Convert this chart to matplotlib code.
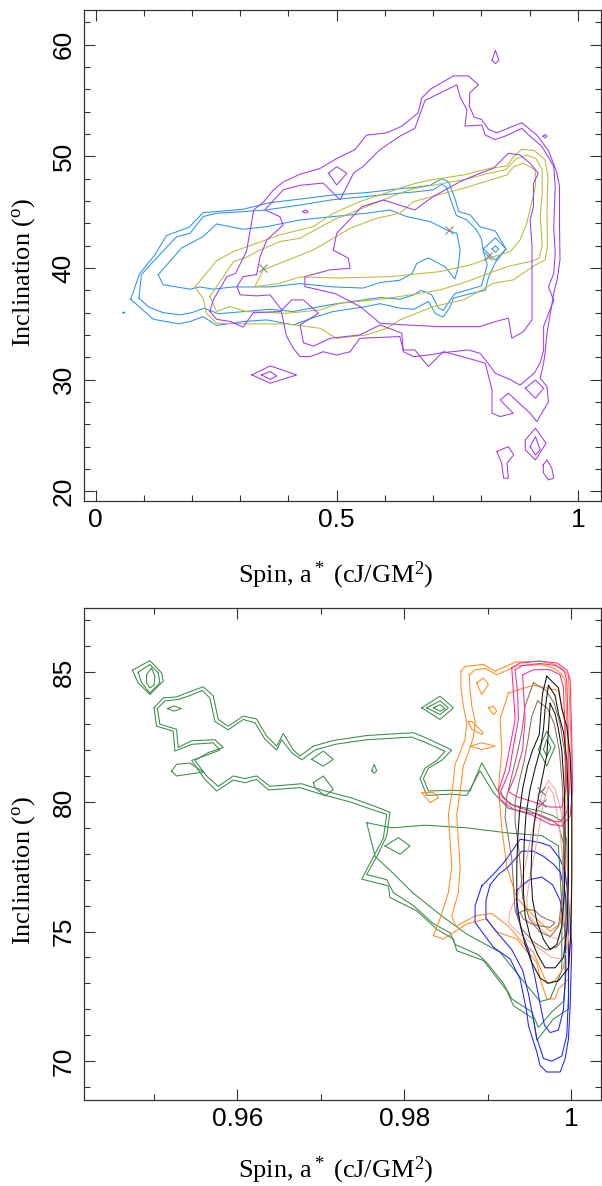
import matplotlib
matplotlib.use("Agg")
import matplotlib.pyplot as plt

plt.rcParams['mathtext.fontset'] = 'custom'
plt.rcParams['mathtext.rm'] = 'Liberation Serif'
plt.rcParams['mathtext.it'] = 'Liberation Serif:italic'

# ---------------- top panel contours (spin, inclination) ----------------
blue_outer = [(0.073,37.2),(0.099,36.2),(0.12,35.4),(0.172,35.0),(0.196,35.2),(0.223,35.65),(0.251,34.85),(0.306,35.2),(0.355,35.35),(0.41,34.9),(0.458,35.65),(0.493,36.1),(0.555,36.5),(0.59,36.8),(0.631,36.4),(0.66,36.3),(0.69,37.0),(0.705,35.9),(0.721,35.6),(0.735,36.5),(0.742,37.3),(0.777,37.7),(0.808,38.0),(0.815,39.2),(0.829,40.5),(0.851,41.7),(0.829,43.3),(0.797,43.7),(0.777,44.75),(0.753,45.05),(0.746,46.1),(0.732,47.7),(0.718,48.0),(0.694,47.4),(0.659,47.2),(0.631,47.1),(0.562,46.75),(0.493,46.54),(0.438,46.24),(0.362,45.85),(0.306,45.26),(0.251,45.05),(0.223,44.96),(0.194,43.65),(0.147,42.9),(0.123,41.17),(0.091,39.47),(0.073,37.2)]
blue_mid = [(0.09,37.3),(0.11,36.5),(0.14,36.0),(0.175,35.8),(0.2,36.0),(0.225,36.4),(0.255,35.9),(0.31,36.1),(0.36,36.3),(0.41,36.1),(0.46,36.5),(0.5,36.8),(0.55,37.1),(0.59,37.35),(0.631,37.2),(0.66,37.6),(0.675,38.0),(0.697,37.6),(0.711,36.4),(0.721,36.2),(0.733,37.0),(0.745,37.7),(0.777,38.1),(0.80,38.4),(0.806,39.3),(0.812,40.3),(0.804,41.5),(0.80,42.6),(0.79,43.4),(0.77,44.3),(0.748,44.7),(0.738,45.9),(0.728,47.2),(0.718,47.5),(0.70,47.0),(0.66,46.8),(0.631,46.7),(0.56,46.4),(0.49,46.1),(0.424,45.64),(0.355,45.2),(0.306,45.04),(0.251,44.9),(0.223,44.6),(0.196,43.1),(0.168,42.8),(0.12,40.6),(0.095,39.4),(0.09,37.3)]
blue_inner = [(0.13,39.4),(0.14,38.5),(0.196,38.1),(0.216,38.3),(0.244,38.1),(0.286,38.3),(0.362,38.3),(0.424,38.6),(0.493,38.3),(0.555,38.2),(0.59,38.7),(0.631,38.9),(0.656,39.5),(0.666,40.4),(0.69,40.9),(0.725,40.1),(0.745,39.0),(0.752,40.1),(0.756,41.6),(0.749,43.1),(0.728,43.4),(0.694,44.15),(0.645,44.6),(0.61,45.2),(0.562,44.9),(0.424,44.3),(0.355,43.7),(0.306,43.47),(0.251,43.94),(0.223,42.81),(0.178,41.77),(0.13,39.4)]
blue_ring = [(0.804,41.7),(0.829,42.7),(0.851,41.7),(0.829,40.7),(0.804,41.7)]
blue_ring2 = [(0.822,41.7),(0.829,42.0),(0.836,41.7),(0.829,41.4),(0.822,41.7)]
blue_dot = [(0.057,36.0),(0.059,36.06),(0.061,36.0),(0.059,35.94),(0.057,36.0)]

yel_outer = [(0.206,38.27),(0.223,37.29),(0.23,35.94),(0.251,35.05),(0.313,34.99),(0.396,34.99),(0.465,34.6),(0.5,33.7),(0.562,34.0),(0.604,34.6),(0.631,35.35),(0.7,36.54),(0.763,37.14),(0.825,38.63),(0.866,38.93),(0.912,40.27),(0.932,40.72),(0.937,41.9),(0.936,45.2),(0.938,48.2),(0.932,49.67),(0.91,50.51),(0.884,50.63),(0.867,49.97),(0.853,49.14),(0.818,48.93),(0.763,48.33),(0.694,47.88),(0.659,47.53),(0.631,47.14),(0.548,45.94),(0.493,44.9),(0.452,43.71),(0.382,42.96),(0.334,42.21),(0.286,41.47),(0.251,40.66),(0.206,38.27)]
yel_mid = [(0.237,37.44),(0.251,36.1),(0.279,36.54),(0.313,36.09),(0.396,35.94),(0.465,36.24),(0.507,36.84),(0.57,37.1),(0.631,37.44),(0.714,38.03),(0.77,38.78),(0.82,39.6),(0.86,40.2),(0.905,40.6),(0.92,40.9),(0.926,42.0),(0.922,44.6),(0.926,46.7),(0.926,48.8),(0.913,49.8),(0.894,50.1),(0.873,49.8),(0.85,48.8),(0.818,48.5),(0.763,47.9),(0.659,47.1),(0.631,46.69),(0.562,45.5),(0.493,44.3),(0.424,42.66),(0.382,42.36),(0.334,41.47),(0.313,40.96),(0.286,40.57),(0.251,38.33),(0.237,37.44)]
yel_inner = [(0.33,38.33),(0.38,38.6),(0.424,39.2),(0.5,39.1),(0.611,39.22),(0.714,39.67),(0.777,40.27),(0.825,41.0),(0.86,41.46),(0.88,42.5),(0.894,44.0),(0.905,46.0),(0.912,47.3),(0.912,48.78),(0.887,49.38),(0.867,49.08),(0.853,48.33),(0.763,47.14),(0.659,45.94),(0.631,44.9),(0.583,44.45),(0.528,43.56),(0.452,41.62),(0.382,40.42),(0.348,39.83),(0.33,38.33)]

pur_outer = [(0.237,36.1),(0.251,35.4),(0.28,35.2),(0.306,34.7),(0.327,36.0),(0.385,36.1),(0.396,33.9),(0.41,32.8),(0.424,32.06),(0.445,32.06),(0.472,32.5),(0.5,32.2),(0.528,32.5),(0.548,33.7),(0.631,33.86),(0.638,32.66),(0.662,32.66),(0.69,31.17),(0.721,32.51),(0.784,31.77),(0.808,31.47),(0.822,29.08),(0.822,26.99),(0.839,26.69),(0.866,26.99),(0.839,28.18),(0.856,28.78),(0.901,26.99),(0.915,26.24),(0.939,28.03),(0.936,29.38),(0.922,30.12),(0.929,31.47),(0.932,32.36),(0.936,34.15),(0.943,35.94),(0.95,37.73),(0.957,38.93),(0.963,40.72),(0.962,43.7),(0.962,47.3),(0.956,48.6),(0.939,50.5),(0.915,51.9),(0.884,53.0),(0.86,52.6),(0.832,52.1),(0.815,52.4),(0.80,53.3),(0.785,53.5),(0.775,54.5),(0.776,55.7),(0.794,56.4),(0.773,57.2),(0.742,57.2),(0.694,56.0),(0.676,55.2),(0.669,53.9),(0.635,52.7),(0.604,52.1),(0.562,51.9),(0.538,50.6),(0.5,49.8),(0.465,48.9),(0.424,48.4),(0.389,47.7),(0.369,47.0),(0.348,45.9),(0.328,45.2),(0.313,41.5),(0.29,39.5),(0.272,39.22),(0.244,37.13),(0.237,36.1)]
pur_mid = [(0.334,39.4),(0.306,39.23),(0.293,38.33),(0.3,37.59),(0.334,37.5),(0.362,37.59),(0.386,36.24),(0.407,37.14),(0.431,37.14),(0.462,35.94),(0.424,34.9),(0.431,33.3),(0.452,33.0),(0.486,33.7),(0.548,34.0),(0.59,34.9),(0.635,34.15),(0.638,32.51),(0.659,32.06),(0.69,32.2),(0.718,32.4),(0.773,32.66),(0.797,32.36),(0.811,31.62),(0.829,30.57),(0.86,30.0),(0.88,29.5),(0.91,30.6),(0.922,31.5),(0.929,32.66),(0.929,34.75),(0.939,35.9),(0.95,37.1),(0.939,38.3),(0.95,39.5),(0.953,41.3),(0.95,43.7),(0.953,47.3),(0.95,49.1),(0.925,50.9),(0.901,51.8),(0.884,52.5),(0.849,51.8),(0.828,51.5),(0.808,51.9),(0.801,52.8),(0.766,52.7),(0.77,54.15),(0.756,55.3),(0.749,56.4),(0.683,55.0),(0.662,52.5),(0.631,51.8),(0.59,50.6),(0.555,49.1),(0.535,48.5),(0.507,46.1),(0.493,46.7),(0.472,47.6),(0.424,47.4),(0.389,47.0),(0.351,45.2),(0.382,44.6),(0.389,43.85),(0.355,42.5),(0.341,41.0),(0.334,39.4)]
pur_inner = [(0.493,41.6),(0.5,43.1),(0.552,45.49),(0.597,46.09),(0.618,45.79),(0.662,45.19),(0.7,46.39),(0.756,47.73),(0.797,48.48),(0.825,48.93),(0.856,50.27),(0.88,50.12),(0.901,49.37),(0.918,48.48),(0.908,47.58),(0.908,45.49),(0.901,44.3),(0.905,42.0),(0.905,37.44),(0.905,35.35),(0.887,34.3),(0.863,33.7),(0.856,35.5),(0.829,35.2),(0.797,34.75),(0.714,34.75),(0.642,34.9),(0.59,35.05),(0.55,36.5),(0.497,37.7),(0.434,38.33),(0.434,39.23),(0.486,39.83),(0.528,39.97),(0.524,40.87),(0.493,41.6)]
pur_isl_a = [(0.324,30.42),(0.362,31.23),(0.417,30.42),(0.362,29.68),(0.324,30.42)]
pur_isl_b = [(0.344,30.42),(0.362,30.72),(0.376,30.33),(0.362,30.03),(0.344,30.42)]
pur_isl_c = [(0.483,48.48),(0.5,49.07),(0.521,48.48),(0.5,47.43),(0.483,48.48)]
pur_isl_d = [(0.822,58.6),(0.829,59.5),(0.836,58.6),(0.829,58.3),(0.822,58.6)]
pur_isl_e = [(0.43,45.05),(0.435,45.2),(0.441,45.05),(0.435,44.9),(0.43,45.05)]
pur_isl_f = [(0.928,51.8),(0.932,51.95),(0.936,51.8),(0.932,51.65),(0.928,51.8)]
pur_isl_g = [(0.891,29.23),(0.912,29.97),(0.929,29.23),(0.912,28.33),(0.891,29.23)]
pur_isl_h = [(0.891,24.6),(0.912,25.65),(0.934,24.3),(0.912,22.81),(0.891,23.71),(0.891,24.6)]
pur_isl_i = [(0.901,24.0),(0.912,24.9),(0.922,23.71),(0.912,23.26),(0.901,24.0)]
pur_isl_j = [(0.832,23.56),(0.856,24.0),(0.867,23.26),(0.853,22.51),(0.856,21.17),(0.846,21.17),(0.842,22.51),(0.832,23.56)]
pur_isl_k = [(0.928,22.36),(0.936,22.81),(0.946,22.06),(0.95,21.17),(0.939,21.02),(0.929,21.62),(0.928,22.36)]
top_marks_x = [0.347, 0.732, 0.814]
top_marks_y = [40.0, 43.4, 41.1]

# ---------------- bottom panel contours ----------------
grn_outer = [(0.9500,83.63),(0.9511,84.01),(0.9527,84.05),(0.9541,84.23),(0.9559,84.44),(0.9571,84.1),(0.9577,83.18),(0.9589,82.92),(0.9607,83.31),(0.9623,83.2),(0.9635,82.54),(0.9647,82.15),(0.9655,82.64),(0.9667,82.0),(0.9675,81.77),(0.9691,82.15),(0.9715,82.37),(0.9755,82.56),(0.9811,82.67),(0.9829,82.43),(0.9857,82.0),(0.9845,81.6),(0.9829,81.3),(0.9823,80.9),(0.9829,80.42),(0.9855,80.45),(0.9879,80.42),(0.9893,81.51),(0.9911,80.48),(0.9927,79.91),(0.9943,79.78),(0.9963,79.65),(0.9979,79.46),(0.9989,79.26),(0.9995,78.5),(0.9997,76.0),(0.9997,73.0),(0.9997,72.0),(0.9979,71.63),(0.9959,70.8),(0.9955,71.63),(0.9931,72.14),(0.9923,72.72),(0.9903,73.55),(0.9895,73.88),(0.9863,74.26),(0.9859,74.71),(0.9839,75.09),(0.9815,75.8),(0.9783,76.31),(0.9781,76.76),(0.9749,77.02),(0.9765,78.0),(0.9775,78.6),(0.9779,79.52),(0.9761,79.71),(0.9735,80.0),(0.9700,80.3),(0.9675,80.55),(0.9637,80.46),(0.9623,80.87),(0.9609,80.74),(0.9595,80.84),(0.9575,80.42),(0.9561,80.87),(0.9545,81.6),(0.9563,81.8),(0.9579,82.0),(0.9571,82.28),(0.9545,82.22),(0.9525,81.96),(0.9523,82.73),(0.9503,82.92),(0.9500,83.63)]
grn_mid = [(0.9504,83.6),(0.9513,83.9),(0.9529,83.95),(0.9543,84.1),(0.9558,84.3),(0.9567,84.0),(0.9573,83.1),(0.9589,82.78),(0.9607,83.18),(0.9621,83.05),(0.9633,82.42),(0.9647,82.0),(0.9653,82.4),(0.9665,81.9),(0.9677,81.62),(0.9693,82.0),(0.9717,82.22),(0.9755,82.4),(0.9809,82.5),(0.9825,82.3),(0.9849,81.95),(0.9839,81.6),(0.9825,81.3),(0.9819,80.9),(0.9827,80.25),(0.9855,80.3),(0.9875,80.25),(0.9891,81.2),(0.9907,80.35),(0.9925,79.75),(0.9943,79.62),(0.9963,79.5),(0.9977,79.3),(0.9985,79.1),(0.9991,78.4),(0.9993,76.0),(0.9993,73.0),(0.9991,72.3),(0.9977,71.9),(0.9961,71.3),(0.9953,71.9),(0.9929,72.4),(0.9919,73.0),(0.9899,73.8),(0.9889,74.1),(0.9861,74.5),(0.9855,74.95),(0.9835,75.3),(0.9811,76.0),(0.9787,76.5),(0.9779,77.0),(0.9755,77.2),(0.9769,78.0),(0.9779,78.7),(0.9783,79.6),(0.9763,79.85),(0.9737,80.15),(0.9702,80.45),(0.9677,80.7),(0.9639,80.6),(0.9623,81.0),(0.9609,80.9),(0.9595,81.0),(0.9577,80.6),(0.9563,81.0),(0.9549,81.6),(0.9565,81.9),(0.9583,82.1),(0.9573,82.4),(0.9545,82.36),(0.9529,82.1),(0.9527,82.8),(0.9507,83.0),(0.9504,83.6)]
grn_inner = [(0.9755,79.2),(0.9785,79.0),(0.9825,79.1),(0.9875,79.0),(0.9925,78.8),(0.9965,78.7),(0.9985,78.3),(0.9989,76.0),(0.9989,73.5),(0.9975,72.4),(0.9963,72.3),(0.994,73.2),(0.9915,74.2),(0.9875,74.9),(0.9845,75.6),(0.981,76.5),(0.9785,77.3),(0.9765,77.9),(0.9755,79.2)]
grn_isl_a = [(0.9474,85.08),(0.9495,85.45),(0.9509,84.98),(0.9511,84.66),(0.9495,84.14),(0.9481,84.59),(0.9474,85.08)]
grn_isl_b = [(0.9481,85.0),(0.9495,85.3),(0.9505,84.98),(0.9507,84.6),(0.9495,84.2),(0.9485,84.6),(0.9481,85.0)]
grn_isl_c = [(0.9491,84.9),(0.9497,85.17),(0.9501,84.85),(0.9500,84.5),(0.9495,84.4),(0.9491,84.6),(0.9491,84.9)]
grn_isl_d = [(0.9521,81.19),(0.9527,81.45),(0.9543,81.5),(0.9559,81.15),(0.9527,81.0),(0.9521,81.19)]
grn_isl_e = [(0.9516,83.6),(0.9524,83.7),(0.9533,83.6),(0.9524,83.5),(0.9516,83.6)]
grn_isl_f = [(0.9689,81.64),(0.9703,81.96),(0.9715,81.64),(0.9703,81.38),(0.9689,81.64)]
grn_isl_g = [(0.9691,80.74),(0.9703,81.0),(0.9715,80.48),(0.9705,80.23),(0.9693,80.55),(0.9691,80.74)]
grn_isl_h = [(0.9821,83.63),(0.9843,84.08),(0.9859,83.63),(0.9843,83.18),(0.9821,83.63)]
grn_isl_i = [(0.9827,83.63),(0.9843,83.9),(0.9853,83.63),(0.9843,83.37),(0.9827,83.63)]
grn_isl_j = [(0.9835,83.63),(0.9843,83.75),(0.9849,83.6),(0.9843,83.5),(0.9835,83.63)]
grn_isl_k = [(0.9961,82.02),(0.9971,82.73),(0.9981,82.15),(0.9971,81.38),(0.9961,82.02)]
grn_isl_l = [(0.9967,82.02),(0.9971,82.41),(0.9976,82.09),(0.9971,81.77),(0.9967,82.02)]
grn_isl_m = [(0.9777,78.3),(0.9793,78.62),(0.9807,78.3),(0.9795,77.98),(0.9777,78.3)]
grn_isl_n = [(0.9761,81.2),(0.9764,81.45),(0.9767,81.2),(0.9764,81.1),(0.9761,81.2)]

org_outer = [(0.9868,85.04),(0.9873,85.23),(0.9895,85.3),(0.9909,85.04),(0.9933,85.39),(0.9963,85.43),(0.9981,85.3),(0.9991,85.1),(0.9997,84.85),(1.0,82.41),(1.0001,79.84),(1.0001,77.28),(0.9999,74.45),(0.9997,73.17),(0.9985,72.78),(0.9981,72.4),(0.9971,72.4),(0.9963,73.17),(0.9959,73.81),(0.9945,74.32),(0.9935,74.71),(0.991,75.0),(0.9899,75.5),(0.9875,75.29),(0.9847,74.71),(0.9835,74.84),(0.9843,75.5),(0.9853,76.5),(0.9857,77.5),(0.9855,78.5),(0.9853,79.5),(0.9858,80.5),(0.9861,81.45),(0.9867,81.9),(0.9873,82.41),(0.9875,83.05),(0.9871,83.69),(0.9868,84.4),(0.9868,85.04)]
org_mid = [(0.9878,84.9),(0.9885,85.1),(0.9897,85.15),(0.9911,84.9),(0.9935,85.25),(0.9963,85.3),(0.9979,85.17),(0.9987,84.98),(0.9993,84.7),(0.9996,82.4),(0.9997,79.8),(0.9997,77.3),(0.9995,74.5),(0.9991,73.6),(0.9981,73.1),(0.9971,73.0),(0.9963,73.6),(0.9955,74.2),(0.9941,74.6),(0.9925,75.2),(0.9905,75.7),(0.9885,75.6),(0.9862,75.2),(0.9857,75.6),(0.9865,76.5),(0.9867,77.5),(0.9865,78.5),(0.9863,79.5),(0.9867,80.4),(0.9871,81.4),(0.9877,81.9),(0.9883,82.5),(0.9885,83.1),(0.9881,83.7),(0.9879,84.3),(0.9878,84.9)]
org_inner = [(0.9925,84.2),(0.9955,84.5),(0.9985,84.3),(0.9993,83.0),(0.9993,80.0),(0.9993,77.0),(0.9987,75.3),(0.9975,75.0),(0.9955,75.6),(0.9935,76.3),(0.9923,77.5),(0.9917,79.0),(0.9913,80.5),(0.9917,82.0),(0.9915,83.2),(0.9925,84.2)]
org_isl_a = [(0.9887,84.59),(0.9895,84.78),(0.9901,84.53),(0.9893,84.14),(0.9887,84.59)]
org_isl_b = [(0.9901,83.63),(0.9907,83.69),(0.9911,83.5),(0.9907,83.37),(0.9901,83.63)]
org_isl_c = [(0.9877,83.1),(0.9881,83.1),(0.9895,82.67),(0.9893,82.6),(0.9881,82.8),(0.9877,83.1)]
org_isl_d = [(0.9879,82.15),(0.9893,82.28),(0.9909,82.15),(0.9893,82.02),(0.9879,82.15)]
org_isl_e = [(0.9821,80.36),(0.9831,79.97),(0.9841,80.16),(0.9835,80.36),(0.9821,80.36)]

pnk_outer = [(0.9929,85.17),(0.9939,85.36),(0.9963,85.43),(0.9983,85.36),(0.9995,85.1),(0.9999,84.72),(1.0001,82.41),(1.0002,80.48),(0.9999,79.46),(0.9989,79.07),(0.9975,79.14),(0.9951,79.52),(0.9931,79.71),(0.9915,80.1),(0.9913,80.42),(0.9921,81.19),(0.9927,82.15),(0.9933,83.18),(0.9931,84.21),(0.9929,85.17)]
pnk_mid = [(0.9933,85.1),(0.9942,85.26),(0.9963,85.34),(0.9982,85.26),(0.9992,85.04),(0.9995,84.66),(0.9997,82.41),(0.9998,80.48),(0.9995,79.59),(0.9987,79.23),(0.9975,79.27),(0.9951,79.65),(0.9932,79.84),(0.9918,80.16),(0.9916,80.42),(0.9926,81.19),(0.9931,82.15),(0.9937,83.18),(0.9936,84.21),(0.9933,85.1)]
pnk_inner = [(0.9942,84.9),(0.9955,85.1),(0.9975,85.1),(0.9987,84.9),(0.9991,84.4),(0.9993,82.5),(0.9994,80.5),(0.9989,79.8),(0.9975,79.8),(0.9955,80.0),(0.9935,80.2),(0.9925,80.4),(0.9933,81.0),(0.9942,82.0),(0.9945,83.2),(0.9942,84.9)]

blk_outer = [(0.9971,84.85),(0.9985,84.4),(0.9989,83.6),(0.9995,82.9),(0.9999,81.8),(1.0001,80.0),(1.0001,77.0),(1.0,75.0),(0.9997,73.6),(0.9985,73.1),(0.9973,73.0),(0.9963,73.2),(0.9953,73.8),(0.9945,74.5),(0.9939,75.3),(0.9935,76.2),(0.9935,77.5),(0.9936,78.5),(0.9938,79.5),(0.9942,80.5),(0.9948,81.4),(0.9954,82.0),(0.9962,82.6),(0.9964,83.5),(0.9966,84.2),(0.9971,84.85)]
blk_mid = [(0.9973,84.5),(0.9981,84.1),(0.9985,83.4),(0.9991,82.7),(0.9995,81.6),(0.9997,80.0),(0.9997,77.0),(0.9995,75.0),(0.9991,74.0),(0.9981,73.6),(0.9969,73.6),(0.996,74.1),(0.9951,74.8),(0.9945,75.6),(0.9943,76.5),(0.9943,77.5),(0.9944,78.5),(0.9946,79.5),(0.9951,80.5),(0.9957,81.3),(0.9963,82.0),(0.9967,82.8),(0.9969,83.6),(0.9973,84.5)]
blk_inner = [(0.9975,83.8),(0.9981,83.4),(0.9985,82.8),(0.9989,82.0),(0.9992,80.5),(0.9993,78.5),(0.9992,76.5),(0.9989,75.2),(0.9983,74.5),(0.9975,74.3),(0.9967,74.7),(0.9959,75.4),(0.9954,76.2),(0.9952,77.2),(0.9953,78.2),(0.9956,79.2),(0.9961,80.2),(0.9966,81.0),(0.9971,81.8),(0.9973,82.8),(0.9975,83.8)]

brn_outer = [(0.9955,84.6),(0.997,84.3),(0.998,83.8),(0.9987,83.0),(0.9993,81.8),(0.9996,80.0),(0.9997,78.0),(0.9995,76.0),(0.9992,74.8),(0.9983,74.4),(0.997,74.3),(0.9955,74.6),(0.9941,75.1),(0.9933,75.8),(0.9931,76.8),(0.9929,77.8),(0.9925,78.6),(0.9921,79.4),(0.9923,80.2),(0.9929,81.0),(0.9935,81.8),(0.9941,82.7),(0.9945,83.7),(0.9955,84.6)]
brn_mid = [(0.996,83.9),(0.9972,83.6),(0.998,83.0),(0.9986,82.0),(0.999,80.5),(0.9991,78.5),(0.999,76.5),(0.9985,75.2),(0.9975,74.8),(0.9962,75.0),(0.995,75.5),(0.9942,76.3),(0.994,77.3),(0.9937,78.3),(0.9933,79.2),(0.9933,80.0),(0.9938,80.8),(0.9944,81.6),(0.9949,82.5),(0.9953,83.3),(0.996,83.9)]
brn_inner = [(0.9939,75.74),(0.9947,75.86),(0.9957,75.8),(0.9963,75.61),(0.9971,75.48),(0.9981,75.35),(0.9975,75.16),(0.9963,75.22),(0.9953,75.29),(0.9943,75.48),(0.9939,75.74)]

lpk_outer = [(0.9973,80.81),(0.9981,80.5),(0.9987,79.8),(0.9991,79.0),(0.9995,78.0),(0.9997,76.5),(0.9998,75.0),(0.9995,74.2),(0.9989,73.94),(0.9977,74.0),(0.9955,74.5),(0.9935,75.0),(0.9925,75.35),(0.9927,75.8),(0.9937,76.5),(0.9945,77.5),(0.9951,78.5),(0.9957,79.3),(0.9963,80.0),(0.9967,80.5),(0.9973,80.81)]
lpk_inner = [(0.9973,80.6),(0.9979,80.3),(0.9983,79.6),(0.9987,78.8),(0.999,77.8),(0.9991,76.5),(0.9991,75.3),(0.9985,74.7),(0.9975,74.8),(0.996,75.2),(0.9948,75.7),(0.9947,76.3),(0.9952,77.3),(0.9958,78.3),(0.9963,79.2),(0.9967,80.0),(0.9973,80.6)]

bl_outer = [(0.9893,76.76),(0.9909,77.28),(0.9921,77.72),(0.9939,78.56),(0.9951,78.5),(0.9963,78.43),(0.9975,78.3),(0.9981,78.05),(0.9987,77.79),(0.9993,77.28),(0.9997,76.25),(1.0001,74.45),(0.9999,72.14),(0.9997,70.86),(0.9993,70.09),(0.9987,69.58),(0.9971,69.58),(0.9963,69.83),(0.9959,70.35),(0.9949,71.37),(0.9947,71.89),(0.9939,73.17),(0.9927,73.94),(0.9907,74.39),(0.9885,75.35),(0.9885,76.0),(0.9893,76.76)]
bl_mid = [(0.9903,76.8),(0.9913,77.2),(0.9925,77.5),(0.9941,78.1),(0.9955,78.1),(0.9967,77.9),(0.9979,77.6),(0.9987,77.3),(0.9993,76.5),(0.9997,75.0),(0.9997,72.5),(0.9995,71.0),(0.9989,70.2),(0.9977,70.0),(0.9967,70.1),(0.9959,70.9),(0.9955,71.6),(0.9949,72.6),(0.9942,73.5),(0.9929,74.3),(0.9913,74.9),(0.9898,75.5),(0.9898,76.2),(0.9903,76.8)]
bl_inner = [(0.9935,76.6),(0.995,77.0),(0.9965,77.1),(0.9978,76.8),(0.9987,76.2),(0.9993,75.0),(0.9994,73.5),(0.9991,72.0),(0.9985,71.2),(0.9975,71.1),(0.9968,71.4),(0.9963,72.2),(0.9957,73.2),(0.995,74.2),(0.9941,75.0),(0.9935,75.8),(0.9935,76.6)]
bot_marks_x = [0.9964, 0.9965]
bot_marks_y = [80.42, 79.97]

BLUE_T, YEL, PUR = '#2b93f0', '#bcb938', '#9a3cf5'
GRN, ORG, PNK, BLK, BRN, LPK, BLU = '#3a8a4a', '#ff8c1e', '#ff2a8e', '#111111', '#8c6e55', '#f2a4a4', '#2020ff'

top_sets = [(blue_outer, BLUE_T), (blue_mid, BLUE_T), (blue_inner, BLUE_T), (blue_ring, BLUE_T), (blue_ring2, BLUE_T), (blue_dot, BLUE_T),
            (yel_outer, YEL), (yel_mid, YEL), (yel_inner, YEL),
            (pur_outer, PUR), (pur_mid, PUR), (pur_inner, PUR), (pur_isl_a, PUR), (pur_isl_b, PUR), (pur_isl_c, PUR),
            (pur_isl_d, PUR), (pur_isl_e, PUR), (pur_isl_f, PUR), (pur_isl_g, PUR), (pur_isl_h, PUR), (pur_isl_i, PUR),
            (pur_isl_j, PUR), (pur_isl_k, PUR)]
bot_sets = [(grn_outer, GRN), (grn_mid, GRN), (grn_inner, GRN), (grn_isl_a, GRN), (grn_isl_b, GRN), (grn_isl_c, GRN),
            (grn_isl_d, GRN), (grn_isl_e, GRN), (grn_isl_f, GRN), (grn_isl_g, GRN), (grn_isl_h, GRN), (grn_isl_i, GRN),
            (grn_isl_j, GRN), (grn_isl_k, GRN), (grn_isl_l, GRN), (grn_isl_m, GRN), (grn_isl_n, GRN),
            (org_outer, ORG), (org_mid, ORG), (org_inner, ORG), (org_isl_a, ORG), (org_isl_b, ORG), (org_isl_c, ORG),
            (org_isl_d, ORG), (org_isl_e, ORG),
            (bl_outer, BLU), (bl_mid, BLU), (bl_inner, BLU),
            (lpk_outer, LPK), (lpk_inner, LPK),
            (brn_outer, BRN), (brn_mid, BRN), (brn_inner, BRN),
            (pnk_outer, PNK), (pnk_mid, PNK), (pnk_inner, PNK),
            (blk_outer, BLK), (blk_mid, BLK), (blk_inner, BLK)]


def draw(ax, sets):
    for pts, col in sets:
        xs, ys = zip(*pts)
        ax.plot(xs, ys, color=col, lw=0.75, solid_joinstyle='miter')


def style(ax):
    for sp in ax.spines.values():
        sp.set_color('#333333')
        sp.set_linewidth(0.9)
    ax.tick_params(which='both', direction='in', top=True, right=True, color='#333333', width=0.8)
    ax.tick_params(which='major', length=8, pad=6)
    ax.tick_params(which='minor', length=4.2)
    ax.tick_params(axis='x', pad=5)
    for lab in ax.get_xticklabels() + ax.get_yticklabels():
        lab.set_fontfamily('Liberation Sans')
        lab.set_fontsize(19)
    for lab in ax.get_yticklabels():
        lab.set_rotation(90)
        lab.set_va('center')
    ax.set_xlabel(r'Spin, a$^{\rm *}$ (cJ/GM$^{\rm 2}$)', fontfamily='Liberation Serif', fontsize=19)
    ax.set_ylabel(r'Inclination ($^{\rm o}$)', fontfamily='Liberation Serif', fontsize=19)


fig = plt.figure(figsize=(6.02, 11.86), dpi=100)
ax1 = fig.add_axes([84/602, 1 - 501/1186, 517/602, 491/1186])
ax2 = fig.add_axes([84/602, 1 - 1100/1186, 517/602, 492/1186])

draw(ax1, top_sets)
ax1.plot(top_marks_x, top_marks_y, 'x', color='#888888', ms=6, mew=0.8)
ax1.set_xlim(-0.024, 1.048)
ax1.set_ylim(19.13, 63.1)
ax1.set_xticks([0, 0.5, 1])
ax1.set_xticklabels(['0', '0.5', '1'])
ax1.set_xticks([0.1, 0.2, 0.3, 0.4, 0.6, 0.7, 0.8, 0.9], minor=True)
ax1.set_yticks([20, 30, 40, 50, 60])
ax1.set_yticks([22, 24, 26, 28, 32, 34, 36, 38, 42, 44, 46, 48, 52, 54, 56, 58, 62], minor=True)
style(ax1)
ax1.xaxis.set_label_coords(0.486, -0.12)
ax1.yaxis.set_label_coords(-0.09, 0.466)

draw(ax2, bot_sets)
ax2.plot(bot_marks_x, bot_marks_y, 'x', color='#777777', ms=6, mew=0.8)
ax2.set_xlim(0.9416, 1.0036)
ax2.set_ylim(68.5, 87.48)
ax2.set_xticks([0.96, 0.98, 1.0])
ax2.set_xticklabels(['0.96', '0.98', '1'])
ax2.set_xticks([0.95, 0.97, 0.99], minor=True)
ax2.set_yticks([70, 75, 80, 85])
ax2.set_yticks([69, 71, 72, 73, 74, 76, 77, 78, 79, 81, 82, 83, 84, 86, 87], minor=True)
style(ax2)
ax2.xaxis.set_label_coords(0.486, -0.112)
ax2.yaxis.set_label_coords(-0.09, 0.467)

fig.savefig('out.png', dpi=100)
